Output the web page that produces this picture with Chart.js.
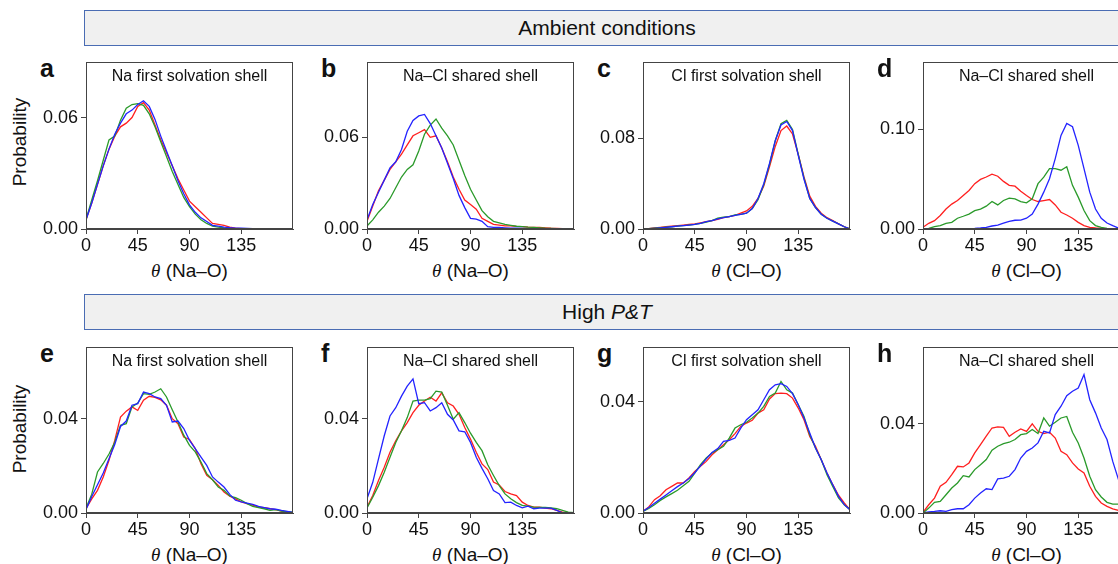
<!DOCTYPE html>
<html>
<head>
<meta charset="utf-8">
<script src="https://cdn.jsdelivr.net/npm/chart.js@4.4.1/dist/chart.umd.min.js"></script>
<style>
  body { margin: 0; width: 1118px; height: 564px; overflow: hidden; background: #fff; position: relative;
         font-family: "Liberation Sans", Arial, sans-serif; color: #111; }
  .banner { position: absolute; left: 84px; width: 1046px; height: 36px; box-sizing: border-box;
            background: #f0f0f0; border: 1.5px solid #4a6cb3; font-size: 21px;
            display: flex; align-items: center; justify-content: center; }
  .letter { position: absolute; font-weight: bold; font-size: 25px; line-height: 26px; }
  .xlab { position: absolute; width: 207px; text-align: center; font-size: 19px; line-height: 22px; }
  .xlab i { font-family: "Liberation Serif", "DejaVu Serif", serif; }
  .ylab { position: absolute; width: 120px; text-align: center; font-size: 19px; line-height: 22px;
          transform: rotate(-90deg); }
  canvas { position: absolute; }
</style>
</head>
<body>
<div class="banner" style="top:10px">Ambient conditions</div>
<div class="banner" style="top:294px">High&nbsp;<i>P&amp;T</i></div>
<div class="ylab" style="left:-40px;top:131px">Probability</div>
<div class="ylab" style="left:-40px;top:418px">Probability</div>

<script>
// angle bins (degrees)
const angles = [0, 5, 10, 15, 20, 25, 30, 35, 40, 45, 50, 55, 60, 65, 70, 75, 80, 85, 90,
  95, 100, 105, 110, 115, 120, 125, 130, 135, 140, 145, 150, 155, 160, 165, 170, 175, 180];
const xTickValues = [0, 45, 90, 135];

// a - Na first solvation shell (ambient)
const aRed = [0.005, 0.014, 0.024, 0.034, 0.043, 0.050, 0.055, 0.057, 0.060, 0.066, 0.068, 0.064, 0.056,
  0.048, 0.041, 0.034, 0.027, 0.021, 0.015, 0.012, 0.009, 0.006, 0.003, 0.0025, 0.002, 0.001, 0.0004,
  0.0002, 0.0001, 0, 0, 0, 0, 0, 0, 0, 0];
const aGreen = [0.005, 0.0157, 0.026, 0.037, 0.048, 0.050, 0.0586, 0.065, 0.067, 0.0675, 0.0666, 0.062,
  0.055, 0.047, 0.039, 0.031, 0.024, 0.017, 0.012, 0.008, 0.005, 0.003, 0.0015, 0.001, 0.0006, 0.0003,
  0.0001, 0, 0, 0, 0, 0, 0, 0, 0, 0, 0];
const aBlue = [0.005, 0.014, 0.024, 0.034, 0.043, 0.051, 0.057, 0.062, 0.064, 0.067, 0.069, 0.066, 0.059,
  0.050, 0.042, 0.034, 0.026, 0.019, 0.013, 0.009, 0.006, 0.004, 0.002, 0.0015, 0.001, 0.0007, 0.0005,
  0.0004, 0.0003, 0.0002, 0.0002, 0.0001, 0, 0, 0, 0, 0];

// b - Na-Cl shared shell (ambient, Na-O)
const bRed = [0.005, 0.015, 0.025, 0.032, 0.039, 0.044, 0.049, 0.055, 0.061, 0.063, 0.065, 0.060, 0.061,
  0.053, 0.044, 0.034, 0.026, 0.019, 0.016, 0.013, 0.007, 0.005, 0.003, 0.0025, 0.002, 0.002, 0.0017,
  0.0015, 0.0012, 0.001, 0.001, 0.0008, 0.0005, 0.0004, 0.0002, 0.0001, 0];
const bGreen = [0.002, 0.006, 0.011, 0.015, 0.020, 0.027, 0.034, 0.039, 0.042, 0.051, 0.062, 0.068, 0.072,
  0.066, 0.061, 0.055, 0.045, 0.035, 0.026, 0.019, 0.012, 0.008, 0.005, 0.004, 0.003, 0.0024, 0.0018,
  0.0015, 0.0012, 0.001, 0.0008, 0.0005, 0.0004, 0.0003, 0.0002, 0.0001, 0];
const bBlue = [0.006, 0.016, 0.024, 0.032, 0.040, 0.044, 0.052, 0.064, 0.071, 0.074, 0.075, 0.069, 0.061,
  0.053, 0.043, 0.033, 0.022, 0.014, 0.007, 0.0065, 0.005, 0.0015, 0.001, 0.001, 0.0008, 0.0006, 0.0005,
  0.0004, 0.0003, 0.0002, 0.0001, 0, 0, 0, 0, 0, 0];

// c - Cl first solvation shell (ambient)
const cRed = [0, 0.0004, 0.0009, 0.0014, 0.002, 0.0025, 0.003, 0.0035, 0.004, 0.0046, 0.0055, 0.0065,
  0.0075, 0.0085, 0.010, 0.011, 0.012, 0.014, 0.016, 0.020, 0.027, 0.038, 0.055, 0.073, 0.087, 0.091,
  0.084, 0.066, 0.046, 0.029, 0.020, 0.014, 0.010, 0.0075, 0.0045, 0.002, 0];
const cGreen = [0, 0.0003, 0.0007, 0.0012, 0.0016, 0.002, 0.0026, 0.003, 0.0035, 0.004, 0.005, 0.006,
  0.0075, 0.0095, 0.0105, 0.011, 0.0125, 0.013, 0.014, 0.018, 0.026, 0.039, 0.057, 0.078, 0.093, 0.096,
  0.088, 0.066, 0.045, 0.027, 0.019, 0.013, 0.0095, 0.007, 0.0045, 0.002, 0];
const cBlue = [0, 0.0002, 0.0005, 0.0009, 0.0014, 0.002, 0.0025, 0.003, 0.0035, 0.004, 0.005, 0.0065,
  0.0075, 0.009, 0.010, 0.011, 0.012, 0.013, 0.014, 0.018, 0.027, 0.040, 0.058, 0.078, 0.092, 0.095,
  0.087, 0.065, 0.044, 0.027, 0.019, 0.013, 0.0095, 0.007, 0.0045, 0.002, 0];

// d - Na-Cl shared shell (ambient, Cl-O)
const dRed = [0.0017, 0.0057, 0.0084, 0.0135, 0.020, 0.025, 0.0286, 0.0337, 0.0387, 0.0455, 0.0498,
  0.0522, 0.0550, 0.0530, 0.0478, 0.0438, 0.043, 0.038, 0.0337, 0.0296, 0.0276, 0.0286, 0.0296, 0.0242,
  0.0168, 0.0141, 0.0108, 0.0067, 0.0034, 0.0017, 0.001, 0.0005, 0.0003, 0.0002, 0.0001, 0, 0];
const dGreen = [0, 0.0007, 0.0024, 0.0034, 0.0057, 0.0067, 0.0108, 0.0128, 0.015, 0.0185, 0.020, 0.0229,
  0.0276, 0.0242, 0.0286, 0.031, 0.0303, 0.0276, 0.0263, 0.0303, 0.0455, 0.052, 0.0606, 0.0606, 0.059,
  0.0625, 0.0438, 0.032, 0.0185, 0.0084, 0.0034, 0.0017, 0.0007, 0.0003, 0, 0, 0];
const dBlue = [0, 0, 0, 0, 0, 0, 0.0001, 0.0002, 0.0003, 0.0005, 0.001, 0.0017, 0.003, 0.004, 0.006,
  0.0077, 0.0088, 0.009, 0.0108, 0.015, 0.025, 0.037, 0.0505, 0.0707, 0.094, 0.106, 0.1027, 0.084,
  0.0606, 0.037, 0.020, 0.0108, 0.006, 0.0034, 0.001, 0.0005, 0];

// e - Na first solvation shell (high P&T)
const eRed = [0.0018, 0.006, 0.0096, 0.0153, 0.0223, 0.0308, 0.0407, 0.0432, 0.045, 0.0435, 0.0478,
  0.0495, 0.049, 0.048, 0.0457, 0.040, 0.0379, 0.0322, 0.0312, 0.0273, 0.0209, 0.016, 0.0141, 0.0117,
  0.0089, 0.0071, 0.006, 0.0047, 0.004, 0.0033, 0.0025, 0.0023, 0.0018, 0.0014, 0.0008, 0.0004, 0.0002];
const eGreen = [0.002, 0.008, 0.0174, 0.021, 0.025, 0.030, 0.0372, 0.0379, 0.045, 0.0466, 0.0506, 0.0503,
  0.0513, 0.0527, 0.0492, 0.0438, 0.0386, 0.033, 0.0287, 0.0259, 0.0216, 0.0167, 0.0141, 0.011, 0.0096,
  0.0072, 0.0065, 0.0054, 0.004, 0.0028, 0.0023, 0.0018, 0.0011, 0.0014, 0.0008, 0.0006, 0.0004];
const eBlue = [0.0015, 0.007, 0.012, 0.017, 0.023, 0.029, 0.0367, 0.039, 0.0457, 0.0464, 0.0513, 0.0506,
  0.0492, 0.0485, 0.0457, 0.0386, 0.039, 0.0358, 0.0308, 0.0273, 0.0237, 0.0202, 0.0153, 0.0131, 0.011,
  0.0079, 0.0054, 0.0047, 0.0042, 0.0037, 0.0028, 0.0023, 0.0018, 0.0016, 0.0011, 0.0007, 0.0003];

// f - Na-Cl shared shell (high P&T, Na-O)
const fRed = [0.0025, 0.0074, 0.0138, 0.0194, 0.0257, 0.0306, 0.0348, 0.0383, 0.0425, 0.0456, 0.0474,
  0.049, 0.0474, 0.0509, 0.0467, 0.0453, 0.0418, 0.0362, 0.0313, 0.0257, 0.0208, 0.0184, 0.0131, 0.0119,
  0.0091, 0.0081, 0.0074, 0.0046, 0.0032, 0.0025, 0.0025, 0.0021, 0.0018, 0.0011, 0.0004, 0.0002, 0];
const fGreen = [0.0021, 0.0067, 0.0116, 0.0173, 0.0236, 0.0299, 0.0348, 0.0404, 0.0474, 0.0478, 0.0478,
  0.0484, 0.0516, 0.0512, 0.0456, 0.0397, 0.0425, 0.0383, 0.0338, 0.0299, 0.0264, 0.0204, 0.0159, 0.0116,
  0.0081, 0.006, 0.0044, 0.0032, 0.0029, 0.0025, 0.0024, 0.0024, 0.0022, 0.0018, 0.0011, 0.0004, 0.0001];
const fBlue = [0.006, 0.013, 0.0229, 0.0327, 0.0411, 0.0446, 0.0495, 0.0537, 0.0568, 0.0463, 0.0467,
  0.0432, 0.0446, 0.0467, 0.0418, 0.0394, 0.0348, 0.0344, 0.0299, 0.0236, 0.0189, 0.0145, 0.0095, 0.0081,
  0.0044, 0.0046, 0.0032, 0.0022, 0.0029, 0.0018, 0.0021, 0.0021, 0.0021, 0.0011, 0.0001, 0.0001, 0];

// g - Cl first solvation shell (high P&T)
const gRed = [0.0006, 0.0022, 0.0048, 0.0062, 0.0084, 0.0096, 0.0108, 0.0108, 0.0126, 0.015, 0.0168,
  0.0186, 0.021, 0.0228, 0.0246, 0.0264, 0.0286, 0.0312, 0.0324, 0.0334, 0.036, 0.0372, 0.0411, 0.043,
  0.0432, 0.043, 0.0414, 0.0378, 0.0336, 0.0276, 0.024, 0.0192, 0.0144, 0.0102, 0.0064, 0.0036, 0.0012];
const gGreen = [0.0006, 0.0016, 0.003, 0.0045, 0.0058, 0.007, 0.0082, 0.0098, 0.0114, 0.0144, 0.0174,
  0.0198, 0.0216, 0.0228, 0.024, 0.027, 0.0306, 0.0318, 0.0327, 0.0342, 0.036, 0.0384, 0.042, 0.0432,
  0.0474, 0.0444, 0.0432, 0.039, 0.0348, 0.0282, 0.0234, 0.0192, 0.0138, 0.0096, 0.0054, 0.003, 0.0012];
const gBlue = [0.0006, 0.002, 0.0035, 0.005, 0.0065, 0.008, 0.0095, 0.0108, 0.0124, 0.0145, 0.017, 0.0195,
  0.0218, 0.0232, 0.0258, 0.0262, 0.027, 0.0306, 0.0336, 0.0354, 0.0372, 0.0408, 0.0444, 0.0462, 0.0466,
  0.0456, 0.043, 0.039, 0.0342, 0.0288, 0.0234, 0.0192, 0.0144, 0.0102, 0.006, 0.003, 0.0012];

// h - Na-Cl shared shell (high P&T, Cl-O)
const hRed = [0.0003, 0.0037, 0.0067, 0.012, 0.0138, 0.0172, 0.021, 0.0207, 0.0225, 0.027, 0.0307, 0.0345,
  0.0382, 0.0387, 0.0385, 0.0345, 0.0363, 0.0378, 0.0367, 0.0401, 0.0367, 0.0357, 0.0363, 0.0337, 0.0277,
  0.0262, 0.0225, 0.0198, 0.018, 0.012, 0.0075, 0.0045, 0.003, 0.0019, 0.0012, 0.0006, 0.0003];
const hGreen = [0, 0.0022, 0.0048, 0.0052, 0.0082, 0.0112, 0.0135, 0.0168, 0.0162, 0.0195, 0.0217, 0.024,
  0.0282, 0.03, 0.0312, 0.0318, 0.033, 0.0352, 0.0357, 0.0375, 0.0357, 0.0427, 0.039, 0.0408, 0.0427,
  0.0434, 0.0363, 0.0315, 0.0247, 0.0165, 0.0105, 0.0072, 0.0048, 0.004, 0.004, 0.003, 0.002];
const hBlue = [0, 0.0005, 0.0007, 0.001, 0.0007, 0.0015, 0.0019, 0.0019, 0.0037, 0.0067, 0.009, 0.0109,
  0.0105, 0.0153, 0.0157, 0.0165, 0.0195, 0.0247, 0.0277, 0.0292, 0.0315, 0.0367, 0.036, 0.0442, 0.048,
  0.0527, 0.0547, 0.0562, 0.0622, 0.0509, 0.045, 0.0382, 0.033, 0.0232, 0.015, 0.008, 0.003];

// panel text and axis ranges
const panelLetters = ['a', 'b', 'c', 'd', 'e', 'f', 'g', 'h'];
const panelTitles = ['Na first solvation shell', 'Na\u2013Cl shared shell', 'Cl first solvation shell',
  'Na\u2013Cl shared shell', 'Na first solvation shell', 'Na\u2013Cl shared shell',
  'Cl first solvation shell', 'Na\u2013Cl shared shell'];
const pairLabels = ['Na\u2013O', 'Na\u2013O', 'Cl\u2013O', 'Cl\u2013O', 'Na\u2013O', 'Na\u2013O', 'Cl\u2013O', 'Cl\u2013O'];
const yMaxes = [0.0899, 0.1093, 0.1476, 0.1677, 0.0704, 0.0703, 0.0598, 0.0746];
const yTickSteps = [0.06, 0.06, 0.08, 0.10, 0.04, 0.04, 0.04, 0.04];
const panelSeries = [
  [aRed, aGreen, aBlue], [bRed, bGreen, bBlue], [cRed, cGreen, cBlue], [dRed, dGreen, dBlue],
  [eRed, eGreen, eBlue], [fRed, fGreen, fBlue], [gRed, gGreen, gBlue], [hRed, hGreen, hBlue]
];

// layout
const FONT = '"Liberation Sans", Arial, sans-serif';
const colLeft = [86, 367, 643, 923];
const rowTop = [62, 347];
const rowHeight = [167, 166];
const plotW = 207;
const yAxisW = 70, xAxisH = 26, pad = 4;
const lineColors = ['#ff1f1f', '#2a9a2a', '#2323ff'];
const drawOrder = [2, 1, 0];

const framePlugin = {
  id: 'frame',
  afterDraw(chart, args, opts) {
    const { ctx, chartArea: a } = chart;
    ctx.save();
    ctx.strokeStyle = '#444';
    ctx.lineWidth = 1;
    ctx.strokeRect(Math.round(a.left) + 0.5, Math.round(a.top) + 0.5,
      Math.round(a.right - a.left) - 1, Math.round(a.bottom - a.top) - 1);
    ctx.fillStyle = '#111';
    ctx.font = '16px ' + FONT;
    ctx.textAlign = 'center';
    ctx.textBaseline = 'alphabetic';
    ctx.fillText(opts.text, (a.left + a.right) / 2, a.top + 19);
    ctx.restore();
  }
};

function addDiv(cls, html, left, top) {
  const d = document.createElement('div');
  d.className = cls;
  d.innerHTML = html;
  d.style.left = left + 'px';
  d.style.top = top + 'px';
  document.body.appendChild(d);
}

panelSeries.forEach((series, i) => {
  const row = Math.floor(i / 4), col = i % 4;
  const L = colLeft[col], T = rowTop[row], H = rowHeight[row];

  addDiv('letter', panelLetters[i], L - 46, T - 7);
  addDiv('xlab', '<i>\u03b8</i> (' + pairLabels[i] + ')', L, T + H + 31);

  const cv = document.createElement('canvas');
  cv.width = yAxisW + plotW + pad;
  cv.height = pad + H + xAxisH;
  cv.style.left = (L - yAxisW) + 'px';
  cv.style.top = (T - pad) + 'px';
  document.body.appendChild(cv);

  const step = yTickSteps[i];
  new Chart(cv, {
    type: 'line',
    data: {
      datasets: series.map((vals, k) => ({
        data: angles.map((x, j) => ({ x, y: vals[j] })),
        borderColor: lineColors[k],
        borderWidth: 1.3,
        order: drawOrder[k]
      }))
    },
    options: {
      responsive: false,
      animation: false,
      devicePixelRatio: 1,
      layout: { padding: { top: pad, right: pad, left: 0, bottom: 0 } },
      elements: { point: { radius: 0 }, line: { tension: 0 } },
      plugins: { legend: { display: false }, tooltip: { enabled: false }, frame: { text: panelTitles[i] } },
      scales: {
        x: {
          type: 'linear', min: 0, max: 180,
          afterBuildTicks: s => { s.ticks = xTickValues.map(v => ({ value: v })); },
          afterFit: s => { s.height = xAxisH; s.paddingLeft = 0; s.paddingRight = 0; },
          ticks: { font: { size: 18, family: FONT }, color: '#111', padding: 1, maxRotation: 0,
                   autoSkip: false, callback: v => String(v) },
          grid: { drawOnChartArea: false, tickLength: 5, color: '#444' },
          border: { color: '#444' }
        },
        y: {
          min: 0, max: yMaxes[i],
          afterBuildTicks: s => { s.ticks = [0, step].map(v => ({ value: v })); },
          afterFit: s => { s.width = yAxisW; s.paddingTop = 0; s.paddingBottom = 0; },
          ticks: { font: { size: 18, family: FONT }, color: '#111', padding: 3,
                   callback: v => v.toFixed(2) },
          grid: { drawOnChartArea: false, tickLength: 5, color: '#444' },
          border: { color: '#444' }
        }
      }
    },
    plugins: [framePlugin]
  });
});
</script>
</body>
</html>
